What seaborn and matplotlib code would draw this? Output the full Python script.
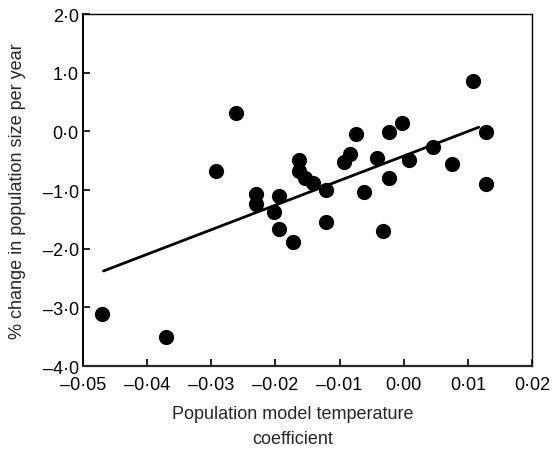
import matplotlib
matplotlib.use("Agg")
import matplotlib.pyplot as plt
import seaborn as sns
import pandas as pd

coef = [-0.0470, -0.0371, -0.0292, -0.0262, -0.0231, -0.0231, -0.0203, -0.0194,
        -0.0194, -0.0172, -0.0163, -0.0163, -0.0154, -0.0142, -0.0121, -0.0121,
        -0.0093, -0.0084, -0.0074, -0.0062, -0.0042, -0.0033, -0.0023, -0.0023,
        -0.0002, 0.0008, 0.0045, 0.0076, 0.0108, 0.0128, 0.0128]
change = [-3.12, -3.50, -0.68, 0.32, -1.06, -1.24, -1.37, -1.11,
          -1.67, -1.89, -0.49, -0.67, -0.80, -0.88, -1.00, -1.54,
          -0.52, -0.38, -0.05, -1.03, -0.45, -1.70, -0.01, -0.79,
          0.14, -0.49, -0.26, -0.56, 0.85, -0.01, -0.89]
fit_x = [-0.0468, 0.0117]
fit_y = [-2.38, 0.07]

x_ticks = [-0.05, -0.04, -0.03, -0.02, -0.01, 0.00, 0.01, 0.02]
x_labels = ["–0·05", "–0·04", "–0·03", "–0·02", "–0·01", "0·00", "0·01", "0·02"]
y_ticks = [-4, -3, -2, -1, 0, 1, 2]
y_labels = ["–4·0", "–3·0", "–2·0", "–1·0", "0·0", "1·0", "2·0"]

sns.set_style("ticks")
plt.rcParams["font.family"] = ["Liberation Sans", "DejaVu Sans"]

df = pd.DataFrame({"coef": coef, "change": change})
fit = pd.DataFrame({"x": fit_x, "y": fit_y})

fig = plt.figure(figsize=(5.52, 4.52), dpi=100)
ax = fig.add_axes([0.1504, 0.188, 0.8134, 0.7788])

sns.lineplot(data=fit, x="x", y="y", ax=ax, color="black", linewidth=2.0)
sns.scatterplot(data=df, x="coef", y="change", ax=ax, color="black", s=120,
                edgecolor="black", linewidth=0, zorder=3)

ax.set_xlim(-0.05, 0.02)
ax.set_ylim(-4, 2)
ax.set_xticks(x_ticks)
ax.set_xticklabels(x_labels)
ax.set_yticks(y_ticks)
ax.set_yticklabels(y_labels)
ax.tick_params(direction="in", length=5, width=1.2, labelsize=13, colors="black")
ax.tick_params(axis="x", pad=7)
ax.tick_params(axis="y", pad=3)
for s in ["left", "right", "top"]:
    ax.spines[s].set_linewidth(1.0)
    ax.spines[s].set_color("black")
ax.spines["bottom"].set_linewidth(1.6)
ax.spines["left"].set_linewidth(1.4)

ax.set_xlabel("Population model temperature\ncoefficient", fontsize=13, linespacing=1.6)
ax.set_ylabel("% change in population size per year", fontsize=13)
ax.xaxis.set_label_coords(0.468, -0.112, transform=ax.transAxes)
ax.xaxis.label.set_va("top")
ax.yaxis.set_label_coords(-0.127, 0.5)

fig.savefig("out.png", dpi=100)
